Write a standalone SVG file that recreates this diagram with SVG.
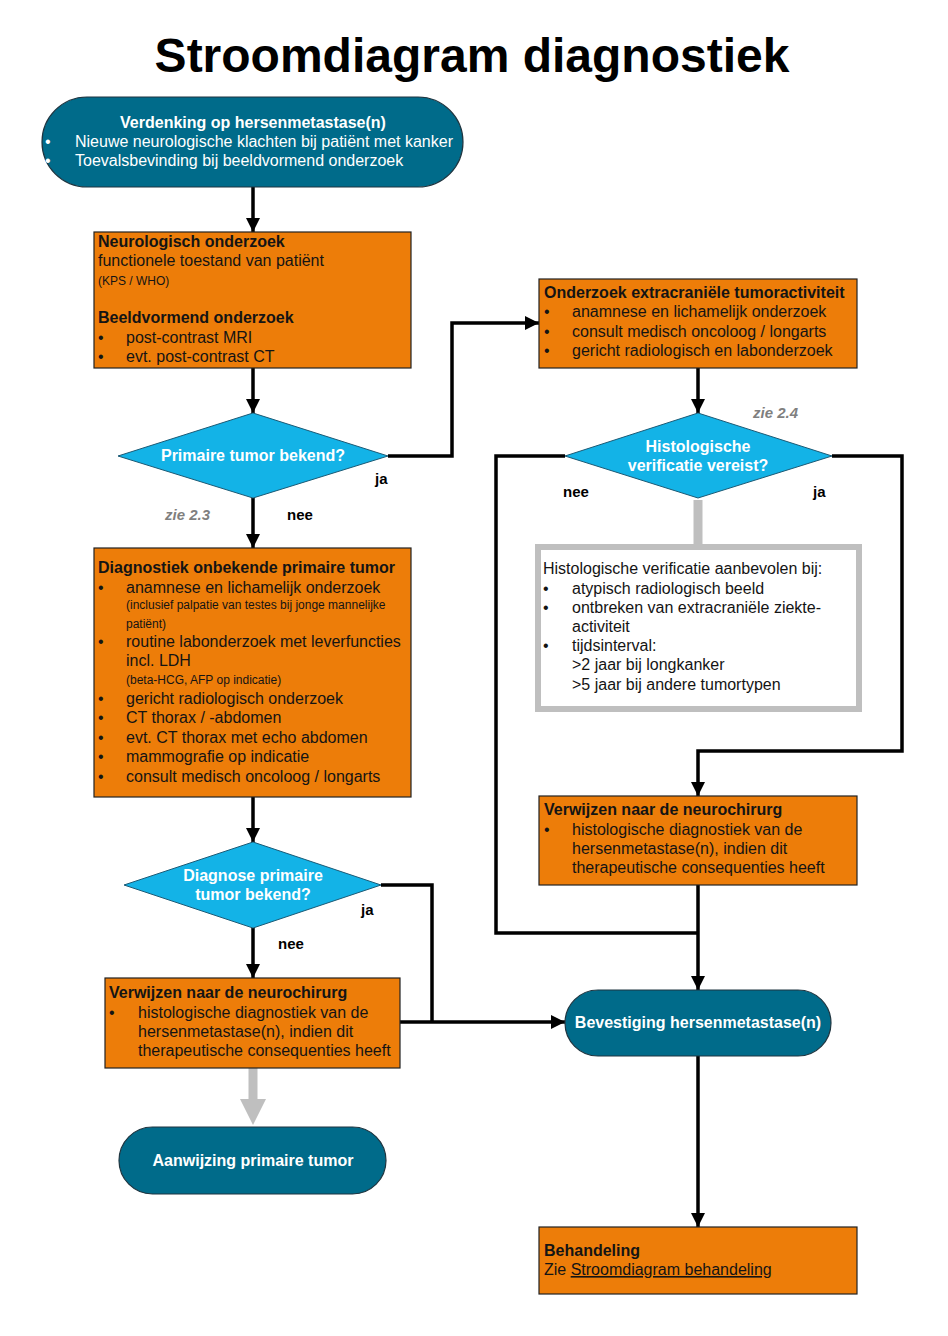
<svg xmlns="http://www.w3.org/2000/svg" width="948" height="1336" viewBox="0 0 948 1336">
<defs>
<style>
text{font-family:"Liberation Sans",Arial,sans-serif;}
.title{font-size:48px;font-weight:bold;fill:#000;}
.box{fill:#ED7D09;stroke:#222;stroke-width:1.2;}
.term{fill:#006B8A;stroke:#1f3540;stroke-width:1.2;}
.dia{fill:#13B3E7;stroke:#1b5a75;stroke-width:1;}
.gbox{fill:#fff;stroke:#BFBFBF;stroke-width:6;}
.t{font-size:16px;fill:#141414;}
.b{font-size:16px;font-weight:bold;fill:#141414;}
.s{font-size:12px;fill:#141414;}
.w{font-size:16px;fill:#fff;}
.wb{font-size:16px;font-weight:bold;fill:#fff;}
.lbl{font-size:15px;font-weight:bold;fill:#000;}
.zie{font-size:15px;font-weight:bold;font-style:italic;fill:#7f7f7f;}
.ln{fill:none;stroke:#000;stroke-width:3.5;}
.gl{fill:none;stroke:#BFBFBF;stroke-width:9;stroke-linecap:round;}
</style>
<marker id="ah" markerUnits="userSpaceOnUse" markerWidth="14" markerHeight="14" refX="14" refY="7" orient="auto">
<path d="M0,0 L14,7 L0,14 z" fill="#000"/>
</marker>
</defs>
<rect width="948" height="1336" fill="#fff"/>
<text class="title" x="472" y="72" text-anchor="middle">Stroomdiagram diagnostiek</text>

<g id="connectors">
<path class="ln" d="M253,187 V232" marker-end="url(#ah)"/>
<path class="ln" d="M253,368 V413" marker-end="url(#ah)"/>
<path class="ln" d="M388,456 H452 V323 H539" marker-end="url(#ah)"/>
<path class="ln" d="M253,498 V548" marker-end="url(#ah)"/>
<path class="ln" d="M698,368 V413" marker-end="url(#ah)"/>
<path class="gl" d="M698,500 V545" style="stroke-linecap:butt"/>
<path class="ln" d="M832,456 H902 V751 H698 V796" marker-end="url(#ah)"/>
<path class="ln" d="M565,456 H496 V933 H698"/>
<path class="ln" d="M698,885 V990" marker-end="url(#ah)"/>
<path class="ln" d="M698,1056 V1227" marker-end="url(#ah)"/>
<path class="ln" d="M253,797 V842" marker-end="url(#ah)"/>
<path class="ln" d="M381,885 H432 V1022"/>
<path class="ln" d="M400,1022 H565" marker-end="url(#ah)"/>
<path class="ln" d="M253,928 V978" marker-end="url(#ah)"/>
<path class="gl" d="M253,1068 V1100"/>
<polygon points="240,1099 266,1099 253,1125" fill="#BFBFBF"/>
</g>

<g id="start">
<rect class="term" x="42" y="97" width="421" height="90" rx="45"/>
<text class="wb" x="253" y="128" text-anchor="middle">Verdenking op hersenmetastase(n)</text>
<text class="w" x="45" y="147">•</text>
<text class="w" x="75" y="147">Nieuwe neurologische klachten bij patiënt met kanker</text>
<text class="w" x="45" y="166">•</text>
<text class="w" x="75" y="166">Toevalsbevinding bij beeldvormend onderzoek</text>
</g>

<g id="neuro">
<rect class="box" x="94" y="232" width="317" height="136"/>
<text class="b" x="98" y="247">Neurologisch onderzoek</text>
<text class="t" x="98" y="266">functionele toestand van patiënt</text>
<text class="s" x="98" y="285">(KPS / WHO)</text>
<text class="b" x="98" y="323">Beeldvormend onderzoek</text>
<text class="t" x="98" y="343">•</text>
<text class="t" x="126" y="343">post-contrast MRI</text>
<text class="t" x="98" y="362">•</text>
<text class="t" x="126" y="362">evt. post-contrast CT</text>
</g>

<g id="dia1">
<polygon class="dia" points="118,456 253,413 388,456 253,498"/>
<text class="wb" x="253" y="461" text-anchor="middle">Primaire tumor bekend?</text>
<text class="lbl" x="375" y="484">ja</text>
<text class="lbl" x="287" y="520">nee</text>
<text class="zie" x="165" y="520">zie 2.3</text>
</g>

<g id="extra">
<rect class="box" x="539" y="279" width="318" height="89"/>
<text class="b" x="544" y="298">Onderzoek extracraniële tumoractiviteit</text>
<text class="t" x="544" y="317">•</text>
<text class="t" x="572" y="317">anamnese en lichamelijk onderzoek</text>
<text class="t" x="544" y="337">•</text>
<text class="t" x="572" y="337">consult medisch oncoloog / longarts</text>
<text class="t" x="544" y="356">•</text>
<text class="t" x="572" y="356">gericht radiologisch en labonderzoek</text>
</g>

<g id="dia2">
<polygon class="dia" points="565,456 698,413 832,456 698,498"/>
<text class="wb" x="698" y="452" text-anchor="middle">Histologische</text>
<text class="wb" x="698" y="471" text-anchor="middle">verificatie vereist?</text>
<text class="zie" x="753" y="418">zie 2.4</text>
<text class="lbl" x="563" y="497">nee</text>
<text class="lbl" x="813" y="497">ja</text>
</g>

<g id="histo">
<rect class="gbox" x="538" y="547" width="321" height="162"/>
<text class="t" x="543" y="574">Histologische verificatie aanbevolen bij:</text>
<text class="t" x="543" y="594">•</text>
<text class="t" x="572" y="594">atypisch radiologisch beeld</text>
<text class="t" x="543" y="613">•</text>
<text class="t" x="572" y="613">ontbreken van extracraniële ziekte-</text>
<text class="t" x="572" y="632">activiteit</text>
<text class="t" x="543" y="651">•</text>
<text class="t" x="572" y="651">tijdsinterval:</text>
<text class="t" x="572" y="670">&gt;2 jaar bij longkanker</text>
<text class="t" x="572" y="690">&gt;5 jaar bij andere tumortypen</text>
</g>

<g id="neurochir1">
<rect class="box" x="539" y="796" width="318" height="89"/>
<text class="b" x="544" y="815">Verwijzen naar de neurochirurg</text>
<text class="t" x="544" y="835">•</text>
<text class="t" x="572" y="835">histologische diagnostiek van de</text>
<text class="t" x="572" y="854">hersenmetastase(n), indien dit</text>
<text class="t" x="572" y="873">therapeutische consequenties heeft</text>
</g>

<g id="onbekend">
<rect class="box" x="94" y="548" width="317" height="249"/>
<text class="b" x="98" y="573">Diagnostiek onbekende primaire tumor</text>
<text class="t" x="98" y="593">•</text>
<text class="t" x="126" y="593">anamnese en lichamelijk onderzoek</text>
<text class="s" x="126" y="609">(inclusief palpatie van testes bij jonge mannelijke</text>
<text class="s" x="126" y="628">patiënt)</text>
<text class="t" x="98" y="647">•</text>
<text class="t" x="126" y="647">routine labonderzoek met leverfuncties</text>
<text class="t" x="126" y="666">incl. LDH</text>
<text class="s" x="126" y="684">(beta-HCG, AFP op indicatie)</text>
<text class="t" x="98" y="704">•</text>
<text class="t" x="126" y="704">gericht radiologisch onderzoek</text>
<text class="t" x="98" y="723">•</text>
<text class="t" x="126" y="723">CT thorax / -abdomen</text>
<text class="t" x="98" y="743">•</text>
<text class="t" x="126" y="743">evt. CT thorax met echo abdomen</text>
<text class="t" x="98" y="762">•</text>
<text class="t" x="126" y="762">mammografie op indicatie</text>
<text class="t" x="98" y="782">•</text>
<text class="t" x="126" y="782">consult medisch oncoloog / longarts</text>
</g>

<g id="dia3">
<polygon class="dia" points="124,885 253,842 381,885 253,928"/>
<text class="wb" x="253" y="881" text-anchor="middle">Diagnose primaire</text>
<text class="wb" x="253" y="900" text-anchor="middle">tumor bekend?</text>
<text class="lbl" x="361" y="915">ja</text>
<text class="lbl" x="278" y="949">nee</text>
</g>

<g id="neurochir2">
<rect class="box" x="105" y="978" width="295" height="90"/>
<text class="b" x="109" y="998">Verwijzen naar de neurochirurg</text>
<text class="t" x="109" y="1018">•</text>
<text class="t" x="138" y="1018">histologische diagnostiek van de</text>
<text class="t" x="138" y="1037">hersenmetastase(n), indien dit</text>
<text class="t" x="138" y="1056">therapeutische consequenties heeft</text>
</g>

<g id="bevestiging">
<rect class="term" x="565" y="990" width="266" height="66" rx="33"/>
<text class="wb" x="698" y="1028" text-anchor="middle">Bevestiging hersenmetastase(n)</text>
</g>

<g id="aanwijzing">
<rect class="term" x="119" y="1127" width="267" height="67" rx="33.5"/>
<text class="wb" x="253" y="1166" text-anchor="middle">Aanwijzing primaire tumor</text>
</g>

<g id="behandeling">
<rect class="box" x="539" y="1227" width="318" height="67"/>
<text class="b" x="544" y="1256">Behandeling</text>
<text class="t" x="544" y="1275">Zie <tspan text-decoration="underline">Stroomdiagram behandeling</tspan></text>
</g>
</svg>
